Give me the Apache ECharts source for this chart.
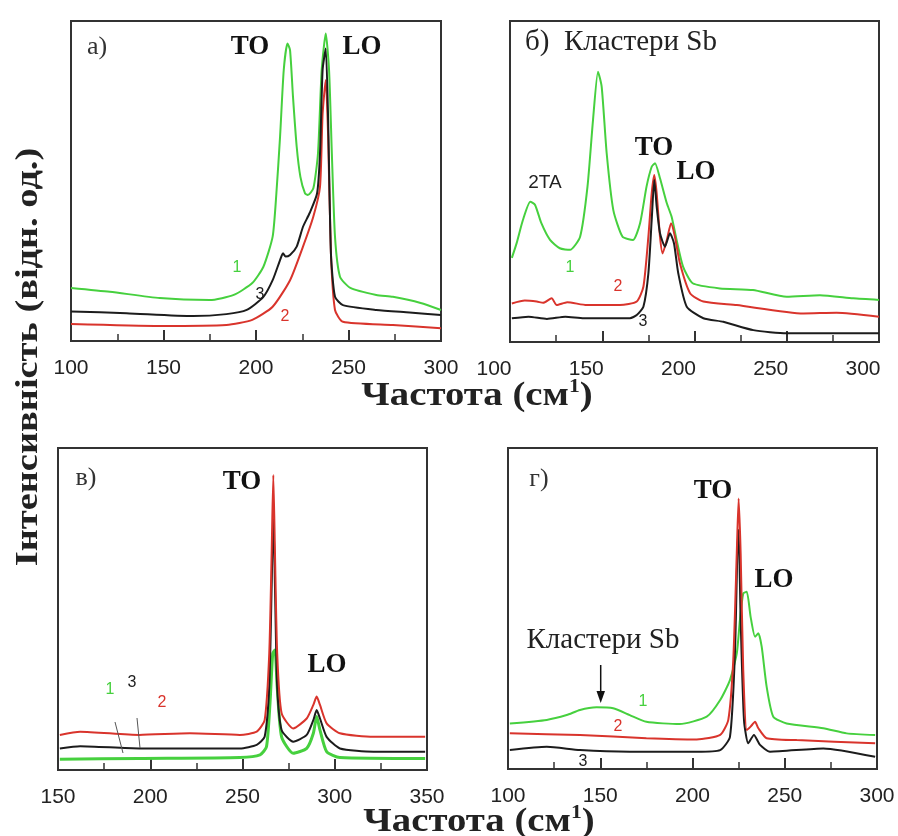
<!DOCTYPE html>
<html>
<head>
<meta charset="utf-8">
<script src="https://cdn.jsdelivr.net/npm/echarts@6/dist/echarts.min.js"></script>
<style>html,body{margin:0;padding:0;background:#fff}#c{width:898px;height:836px}</style>
</head>
<body>
<div id="c"></div>
<script>
// ---------- Panel а) ----------
const aGreenF = [100,121,148,175,188,198,204,209,211,213,215,217,218.4,220,222,224,226.5,228,231,233.5,235.5,237.7,239.5,241,242.7,245.4,251,265,274,289,300];
const aGreenV = [16.6,15.4,13.4,12.8,14.4,18.1,23.2,32.6,46,63.8,84.7,93,90.9,76.3,60.7,51.3,46.1,45.6,47.7,58.6,84.6,96.1,84.6,58.6,32.6,20.1,16.6,14.4,13.8,11.9,9.7];
const aBlackF = [100,130,166,184,195,204,209,213,214.6,216,218.4,222,225.4,229,233,234.6,236,237.7,239,240.5,242.7,247,265,283,300];
const aBlackV = [9.2,8.7,7.8,8.4,9.7,13.8,19,25.3,27.4,26.4,26.9,29.5,35.7,40,46.1,58.6,84.7,91.4,69,27.4,13.8,11.2,9.7,8.9,8.1];
const aRedF = [100,148,184,198,209,218.4,225.4,231,234.6,236,237.7,239,240.5,242.7,247,274,300];
const aRedV = [5.3,4.7,5,6.6,10.7,19,29.5,38.9,48.2,71,81.6,63.8,27.4,9.7,6,5,4];

// ---------- Panel б) ----------
const bGreenF = [101,103.6,107,111,113.6,117,121.7,127,132.5,138,142,145,147.7,149.7,152.4,156,161,166.7,170.5,174,176.8,178.6,181.3,185,187.6,190.3,193.8,199,213.8,231.7,250,268,286,300];
const bGreenV = [26.2,30.8,38,43.7,42.7,37,31.8,29.2,28.7,32.8,48.4,69.2,84.2,79.5,58.8,41.1,32.8,31.8,37,48.4,54.6,55.7,51,43.2,39,31.8,23.5,18.3,16.7,16.2,14.1,14.6,13.6,13.1];
const bRedF = [101,108,114.5,118,122.6,125.3,131,141.6,159.6,168.7,172.3,175,176.8,178.2,179.5,181.3,182.7,185,187.3,189.4,192.1,197.6,204.8,222.9,259,277,300];
const bRedV = [12,12.9,12.6,12.2,13.6,11.5,12.4,11.5,11.5,12.6,17.2,32.8,46.3,52,46.3,32.8,27.6,31.8,37,32.8,24.5,15.2,12.6,11.5,8.9,9.1,7.9];
const bBlackF = [101,110,120,130,140,150,165,168.7,172.3,175,176.8,178.2,179.5,181.3,184,186.7,188.9,191.2,195.8,204.8,215.6,231.9,250,300];
const bBlackV = [7.4,7.9,7.2,7.9,7.4,7.4,7.4,8.4,11,21.4,38,50.5,42.2,33.9,29.7,33.9,30.7,21.4,11,7.4,6.3,3.7,2.7,2.7];

// ---------- Panel в) ----------
const cRedF = [151,162,194,221.5,248.6,257.7,262,264.5,265.8,266.7,267.6,268.8,271.2,277.5,284.8,288.4,290.2,292,295.6,302.8,321,349];
const cRedV = [10.9,11.9,10.9,11.4,10.9,11.9,15.5,36.2,67.3,91.6,67.3,36.2,17.6,12.9,16,20.2,22.8,20.2,14.5,11.4,10.3,10.3];
const cBlackF = [151,162,194,221.5,248.6,257.7,262,264.5,265.8,266.7,267.6,268.8,271.2,277.5,284.8,288.4,290.2,292,295.6,302.8,321,349];
const cBlackV = [6.7,7.4,6.7,6.7,6.7,7.8,10.3,25.9,56.9,80.7,56.9,25.9,12.4,8.8,10.9,15.5,18.6,16,10.3,6.7,5.7,5.7];
const cGreenF = [151,194,248.6,259.5,263,264.9,266.4,267.6,268.8,271.2,277.5,284.8,288.4,290.2,292,295.6,302.8,349];
const cGreenV = [3.3,3.6,3.9,4.7,7.2,20.7,36.2,37.3,25.9,10.3,5.2,6.7,11.4,16.6,12.4,5.7,3.9,3.6];

// ---------- Panel г) ----------
const dGreenF = [101,121,131.8,139,148,157,166,175,193,207.7,215,220.3,224,225.7,227.5,229.4,231.5,233.9,235.7,237.5,240.2,243.8,251,270.9,283.6,299];
const dGreenV = [14.2,15.3,16.8,18.4,19.2,18.9,16.8,14.7,14,16.3,21.5,27.7,36,46.4,54.7,55.2,47.4,41.2,42.3,38.1,25.6,16.3,14.2,12.7,11.1,10.6];
const dRedF = [101,139,175,202.3,215,219.4,222.1,224,225,226.1,227.5,229.4,231.5,233.9,235.7,240.2,256.5,299];
const dRedV = [11.1,10.6,9.6,9.2,10.6,15.3,34,67.2,84.3,67.2,30.8,12.1,13.2,14.7,12.7,9.6,9,8];
const dBlackF = [101,121,139,166,202.3,215,220.3,223,224.3,225,226.1,227.9,230.2,233.3,236.6,242,270.9,299];
const dBlackV = [5.9,6.9,5.9,5.4,5.4,5.9,10,36,67.2,74.5,46.4,15.3,8,10.6,7.5,5.4,6.4,3.8];

const xRanges = [[100,300],[100,300],[150,350],[100,300]];

const GREEN = '#46d03e', RED = '#d9342c', BLACK = '#1c1c1c';
const grids = [
  {left:71, top:21, width:370, height:320},
  {left:510, top:21, width:369, height:321},
  {left:58, top:448, width:369, height:322},
  {left:508, top:448, width:369, height:321}
];

function zip(f, v){ return f.map((x,i)=>[x, v[i]]); }
function line(idx, f, v, color, w){
  return {type:'line', xAxisIndex:idx, yAxisIndex:idx, data:zip(f,v), symbol:'none', showSymbol:false,
    smooth:0.2, silent:true, lineStyle:{color:color, width:w||2}, z:3};
}

const xAxes = xRanges.map((r,i)=>({
  type:'value', gridIndex:i, min:r[0], max:r[1], interval:50,
  axisLine:{show:true, onZero:false, lineStyle:{color:'#333', width:2}},
  axisTick:{show:true, inside:true, length:11, lineStyle:{color:'#333', width:2}},
  minorTick:{show:true, splitNumber:2, length:7, lineStyle:{color:'#333', width:1.5}},
  splitLine:{show:false},
  axisLabel:{fontFamily:'Liberation Sans', fontSize:21, color:'#222', margin:17,
    padding: i===1 ? [0,32,0,0] : 0}
}));
const yAxes = xRanges.map((r,i)=>({type:'value', gridIndex:i, min:0, max:100, show:false}));

const series = [
  line(0, aGreenF, aGreenV, GREEN), line(0, aRedF, aRedV, RED), line(0, aBlackF, aBlackV, BLACK),
  line(1, bGreenF, bGreenV, GREEN), line(1, bRedF, bRedV, RED), line(1, bBlackF, bBlackV, BLACK),
  line(2, cGreenF, cGreenV, GREEN, 3), line(2, cBlackF, cBlackV, BLACK), line(2, cRedF, cRedV, RED),
  line(3, dGreenF, dGreenV, GREEN), line(3, dBlackF, dBlackV, BLACK), line(3, dRedF, dRedV, RED)
];

function txt(x, y, text, font, color, extra){
  const o = {type:'text', x:x, y:y, z:10, silent:true,
    style:{text:text, font:font, fill:color, textAlign:'center', textVerticalAlign:'middle', align:'center', verticalAlign:'middle'}};
  return Object.assign(o, extra||{});
}
const SERIF_B = 'bold 27px "Liberation Serif"';
const SERIF = '29px "Liberation Serif"';
const NUM = '16px "Liberation Sans"';

function xTitle(x, y){
  return {type:'text', x:x, y:y, z:10, silent:true, scaleX:1.14,
    style:{text:'{a|Частота (см}{s|1}{a|)}', textAlign:'center', textVerticalAlign:'middle', align:'center', verticalAlign:'middle',
      rich:{a:{fontFamily:'Liberation Serif', fontWeight:'bold', fontSize:34, fill:'#222', color:'#222', lineHeight:37},
            s:{fontFamily:'Liberation Serif', fontWeight:'bold', fontSize:19, fill:'#222', color:'#222', verticalAlign:'top', lineHeight:37}}}};
}

const graphic = [
  // axis titles
  xTitle(477, 396),
  xTitle(479, 822),
  txt(29, 357, 'Інтенсивність (відн. од.)', 'bold 32px "Liberation Serif"', '#222', {rotation:Math.PI/2, scaleX:1.2}),
  // panel а
  txt(97, 47, 'а)', '26px "Liberation Serif"', '#333'),
  txt(250, 47, 'TO', SERIF_B, '#111'),
  txt(362, 47, 'LO', SERIF_B, '#111'),
  txt(237, 268, '1', NUM, GREEN),
  txt(260, 295, '3', NUM, BLACK),
  txt(285, 317, '2', NUM, RED),
  // panel б
  txt(525, 42, 'б)  Кластери Sb', SERIF, '#222', {style:{text:'б)  Кластери Sb', font:SERIF, fill:'#222', textAlign:'left', align:'left', textVerticalAlign:'middle', verticalAlign:'middle'}}),
  txt(545, 183, '2TA', '19px "Liberation Sans"', '#222'),
  txt(654, 148, 'TO', SERIF_B, '#111'),
  txt(696, 172, 'LO', SERIF_B, '#111'),
  txt(570, 268, '1', NUM, GREEN),
  txt(618, 287, '2', NUM, RED),
  txt(643, 322, '3', NUM, BLACK),
  // panel в
  txt(86, 478, 'в)', '26px "Liberation Serif"', '#333'),
  txt(242, 482, 'TO', SERIF_B, '#111'),
  txt(327, 665, 'LO', SERIF_B, '#111'),
  txt(110, 690, '1', NUM, GREEN),
  txt(132, 683, '3', NUM, BLACK),
  txt(162, 703, '2', NUM, RED),
  {type:'line', z:10, silent:true, shape:{x1:115, y1:722, x2:123, y2:753}, style:{stroke:'#555', lineWidth:1}},
  {type:'line', z:10, silent:true, shape:{x1:137, y1:718, x2:140, y2:748}, style:{stroke:'#555', lineWidth:1}},
  // panel г
  txt(539, 479, 'г)', '26px "Liberation Serif"', '#333'),
  txt(713, 491, 'TO', SERIF_B, '#111'),
  txt(774, 580, 'LO', SERIF_B, '#111'),
  txt(603, 640, 'Кластери Sb', SERIF, '#222'),
  {type:'line', z:10, silent:true, shape:{x1:600.7, y1:665, x2:600.7, y2:694}, style:{stroke:'#111', lineWidth:1.5}},
  {type:'polygon', z:10, silent:true, shape:{points:[[596.5,691],[605,691],[600.7,703]]}, style:{fill:'#111'}},
  txt(643, 702, '1', NUM, GREEN),
  txt(618, 727, '2', NUM, RED),
  txt(583, 762, '3', NUM, BLACK)
];

const chart = echarts.init(document.getElementById('c'), null, {renderer:'canvas'});
chart.setOption({
  animation:false,
  backgroundColor:'#fff',
  grid: grids.map(g=>Object.assign({show:true, borderColor:'#333', borderWidth:2, backgroundColor:'transparent'}, g)),
  xAxis: xAxes,
  yAxis: yAxes,
  series: series,
  graphic: graphic
});
</script>
</body>
</html>
